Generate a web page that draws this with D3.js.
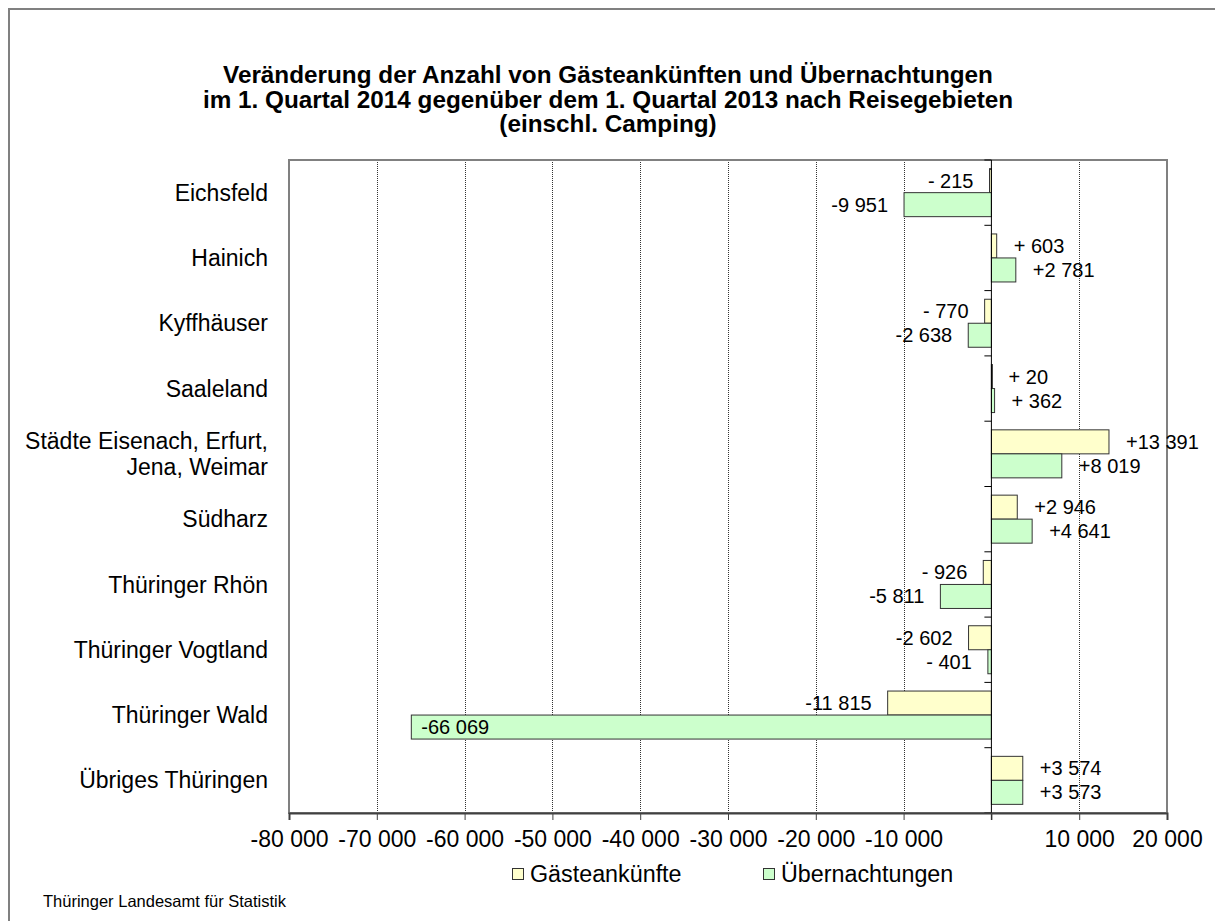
<!DOCTYPE html>
<html>
<head>
<meta charset="utf-8">
<script src="https://cdn.jsdelivr.net/npm/d3@7"></script>
<style>
    body { margin: 0; background: #fff; }
    svg text { font-family: "Liberation Sans", Arial, sans-serif; fill: #000; }
</style>
</head>
<body>
<div class="container"></div>
<script>
let categories = ["Eichsfeld", "Hainich", "Kyffhäuser", "Saaleland",
    "Städte Eisenach, Erfurt,\nJena, Weimar", "Südharz", "Thüringer Rhön",
    "Thüringer Vogtland", "Thüringer Wald", "Übriges Thüringen"];
let ankuenfte = [-215, 603, -770, 20, 13391, 2946, -926, -2602, -11815, 3574];
let uebernachtungen = [-9951, 2781, -2638, 362, 8019, 4641, -5811, -401, -66069, 3573];
let seriesNames = ["Gästeankünfte", "Übernachtungen"];
let seriesColors = ["#ffffcc", "#ccffcc"];
let xTicks = [-80000, -70000, -60000, -50000, -40000, -30000, -20000, -10000, 0, 10000, 20000];
let titleLines = ["Veränderung der Anzahl von Gästeankünften und Übernachtungen",
    "im 1. Quartal 2014 gegenüber dem 1. Quartal 2013 nach Reisegebieten",
    "(einschl. Camping)"];
let source = "Thüringer Landesamt für Statistik";

let svg = d3.select(".container").append("svg")
    .attr("width", 1215)
    .attr("height", 921);

let margin = { top: 160, right: 48, bottom: 108, left: 289 };
let width = 1215 - margin.left - margin.right,
    height = 921 - margin.top - margin.bottom;

let locale = d3.formatLocale({ decimal: ",", thousands: " ", grouping: [3], currency: ["", ""], minus: "-" });
let fmt = locale.format(",d");

// Excel-style label: "+# ##0;-# ##0"
function labelText(v) {
    let a = Math.abs(v);
    let s = a >= 1000 ? fmt(a) : " " + a;
    return (v < 0 ? "-" : "+") + s;
}

// outer frame
svg.append("rect")
    .attr("x", 9).attr("y", 9)
    .attr("width", 1400).attr("height", 1000)
    .attr("fill", "none")
    .attr("stroke", "#808080")
    .attr("stroke-width", 2);

// title
svg.append("text")
    .attr("x", 608)
    .attr("y", 83)
    .attr("text-anchor", "middle")
    .style("font-size", "24.3px")
    .style("font-weight", "bold")
    .selectAll("tspan")
    .data(titleLines)
    .enter()
    .append("tspan")
    .attr("x", 608)
    .attr("dy", (d, i) => i === 0 ? 0 : 24.5)
    .text(d => d);

let xScale = d3.scaleLinear()
    .domain([-80000, 20000])
    .range([0, width]);

let yScale = d3.scaleBand()
    .domain(categories)
    .range([0, height]);

let yInner = d3.scaleBand()
    .domain(seriesNames)
    .range([0, yScale.bandwidth()])
    .paddingOuter(0.36);

let focus = svg.append("g")
    .attr("transform", "translate(" + margin.left + "," + margin.top + ")");

// gridlines
focus.selectAll(".grid")
    .data(xTicks.filter(d => d !== 0 && d !== -80000 && d !== 20000))
    .enter()
    .append("line")
    .attr("class", "grid")
    .attr("x1", d => Math.round(xScale(d)) + 0.5)
    .attr("x2", d => Math.round(xScale(d)) + 0.5)
    .attr("y1", 0)
    .attr("y2", height)
    .attr("stroke", "#333")
    .attr("stroke-dasharray", "1,1");

// plot area border
focus.append("rect")
    .attr("width", width)
    .attr("height", height)
    .attr("fill", "none")
    .attr("stroke", "#808080")
    .attr("stroke-width", 2);

let rows = categories.map((c, i) => ({ cat: c, values: [ankuenfte[i], uebernachtungen[i]] }));

let groups = focus.selectAll(".row")
    .data(rows)
    .enter()
    .append("g")
    .attr("class", "row")
    .attr("transform", d => "translate(0," + yScale(d.cat) + ")");

let bars = groups.selectAll("g.bar")
    .data(d => d.values.map((v, j) => ({ v: v, s: seriesNames[j], j: j })))
    .enter()
    .append("g")
    .attr("class", "bar");

bars.append("rect")
    .attr("x", d => xScale(Math.min(0, d.v)))
    .attr("y", d => yInner(d.s))
    .attr("width", d => Math.max(1, Math.abs(xScale(d.v) - xScale(0))))
    .attr("height", yInner.bandwidth())
    .attr("fill", d => seriesColors[d.j])
    .attr("stroke", "#333")
    .attr("stroke-width", 1);

bars.append("text")
    .attr("x", function (d) {
        if (d.v < -50000) return xScale(d.v) + 10;
        return d.v < 0 ? xScale(d.v) - 16 : xScale(d.v) + 17;
    })
    .attr("y", d => yInner(d.s) + yInner.bandwidth() / 2)
    .attr("dy", "0.35em")
    .attr("text-anchor", d => (d.v < 0 && d.v >= -50000) ? "end" : "start")
    .style("font-size", "20px")
    .style("white-space", "pre")
    .attr("xml:space", "preserve")
    .text(d => labelText(d.v));

// zero axis with category ticks
focus.append("line")
    .attr("x1", xScale(0)).attr("x2", xScale(0))
    .attr("y1", 0).attr("y2", height + 7)
    .attr("stroke", "#000");

focus.selectAll(".ctick")
    .data(d3.range(categories.length + 1))
    .enter()
    .append("line")
    .attr("class", "ctick")
    .attr("x1", xScale(0) - 7).attr("x2", xScale(0))
    .attr("y1", i => i * yScale.step())
    .attr("y2", i => i * yScale.step())
    .attr("stroke", "#000");

// bottom axis
let xAxis = d3.axisBottom(xScale)
    .tickValues(xTicks)
    .tickSize(7)
    .tickPadding(11)
    .tickFormat(d => d === 0 ? "" : fmt(d));

let axisG = focus.append("g")
    .attr("transform", "translate(0," + height + ")")
    .call(xAxis);
axisG.select(".domain").attr("stroke", "#404040").attr("stroke-width", 2);
axisG.selectAll(".tick line").attr("stroke", "#404040");
axisG.selectAll(".tick text")
    .style("font-size", "23px")
    .style("font-family", "'Liberation Sans', Arial, sans-serif")
    .attr("fill", "#000");

// category labels
let catText = focus.selectAll(".cat")
    .data(categories)
    .enter()
    .append("text")
    .attr("class", "cat")
    .attr("text-anchor", "end")
    .style("font-size", "23px")
    .attr("transform", d => "translate(-21," + (yScale(d) + yScale.bandwidth() / 2) + ")");

catText.each(function (d) {
    let lines = d.split("\n");
    let el = d3.select(this);
    lines.forEach((l, i) => {
        el.append("tspan")
            .attr("x", 0)
            .attr("y", (i - (lines.length - 1) / 2) * 26)
            .attr("dy", "0.35em")
            .text(l);
    });
});

// legend
let legendX = [512, 763];
let legend = svg.selectAll(".legend")
    .data(seriesNames)
    .enter()
    .append("g")
    .attr("class", "legend")
    .attr("transform", (d, i) => "translate(" + legendX[i] + ",874)");

legend.append("rect")
    .attr("x", 0.5).attr("y", -5.5)
    .attr("width", 11).attr("height", 11)
    .attr("fill", (d, i) => seriesColors[i])
    .attr("stroke", "#333");

legend.append("text")
    .attr("x", 18)
    .attr("dy", "0.35em")
    .style("font-size", "23.3px")
    .text(d => d);

// source
svg.append("text")
    .attr("x", 43)
    .attr("y", 907)
    .style("font-size", "16.5px")
    .text(source);
</script>
</body>
</html>
